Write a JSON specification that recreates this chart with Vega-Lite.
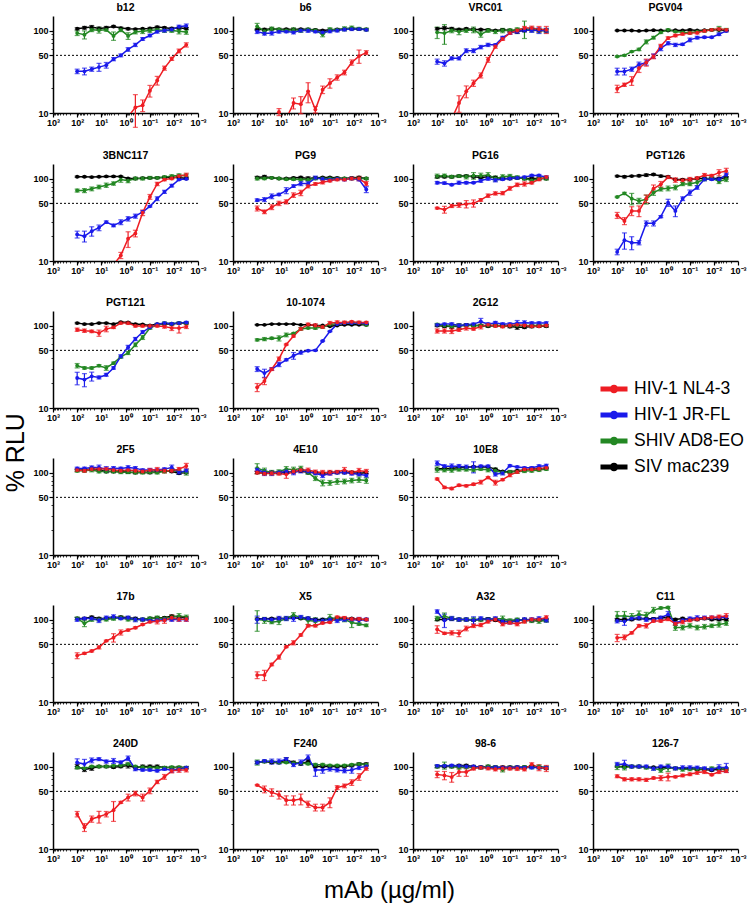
{
"$schema": "https://vega.github.io/schema/vega-lite/v6.json",
"padding": {"left": 3, "top": 2, "right": 0, "bottom": 5},
"background": "white",
"title": {"text": "% RLU", "orient": "left", "anchor": "middle", "fontSize": 25, "fontWeight": "normal", "font": "Liberation Sans", "offset": 4},
"datasets": {
"xs": [
{"s":"S","x":[100,50,25,12.5,6.25,3.125,1.5625,0.78125,0.390625,0.1953125,0.09765625,0.048828125,0.0244140625,0.01220703125,0.006103515625,0.0030517578125]},
{"s":"A","x":[100,50,25,12.5,6.25,3.125,1.5625,0.78125,0.390625,0.1953125,0.09765625,0.048828125,0.0244140625,0.01220703125,0.006103515625,0.0030517578125]},
{"s":"J","x":[100,50,25,12.5,6.25,3.125,1.5625,0.78125,0.390625,0.1953125,0.09765625,0.048828125,0.0244140625,0.01220703125,0.006103515625,0.0030517578125]},
{"s":"N","x":[100,50,25,12.5,6.25,3.125,1.5625,0.78125,0.390625,0.1953125,0.09765625,0.048828125,0.0244140625,0.01220703125,0.006103515625,0.0030517578125]}
],
"d": [
{"p":"b12","s":"S","y":[105,108,110,106,108,112,107,105,104,105,106,110,108,106,107,106],"e":[3,4,5,4,4,3,3,3,2,2,3,3,3,3,3,3]},
{"p":"b12","s":"A","y":[93,89,102,101,102,86,102,86,96,98,100,102,100,100,98,96],"e":[6,10,5,8,4,10,5,8,5,6,5,4,5,5,7,6]},
{"p":"b12","s":"J","y":[32,32,34,36,38,45,50,59,67,79,87,97,100,103,111,114],"e":[2,3,2,4,3,2,2,3,3,3,3,4,4,5,5,6]},
{"p":"b12","s":"N","y":[5,5,5,5,5,6,7,9,11.7,12.4,18.6,24.8,35,45.4,56.6,67],"e":[0,0,0,0,0,0,0,0,5,2,3,3,2,2,3,4]},
{"p":"b6","s":"S","y":[103,103,105,103,104,103,104,103,102,100,102,103,104,105,104,103],"e":[2,3,2,2,2,2,2,2,2,2,2,2,2,2,2,2]},
{"p":"b6","s":"A","y":[112,98,105,103,100,102,100,103,100,90,103,102,105,108,105,103],"e":[10,6,5,4,4,6,5,4,4,6,5,4,6,5,4,4]},
{"p":"b6","s":"J","y":[97,92,93,97,97,95,100,100,97,95,98,100,103,104,104,102],"e":[5,4,5,4,3,4,4,5,3,4,4,4,4,4,3,3]},
{"p":"b6","s":"N","y":[6,7,9,10.3,8.5,13.2,12.8,18.3,11,19.2,23,27,31,41,49,54],"e":[0,0,0,1,0,2,3,5,1,2,3,2,2,3,9,3]},
{"p":"VRC01","s":"S","y":[105,107,105,103,105,103,103,102,100,102,100,98,100,102,100,100],"e":[3,5,4,3,3,3,2,2,2,3,3,6,3,3,3,3]},
{"p":"VRC01","s":"A","y":[95,93,100,97,100,102,90,100,97,100,100,103,105,103,100,100],"e":[15,25,6,8,5,8,7,5,5,6,5,5,25,7,6,6]},
{"p":"VRC01","s":"J","y":[42,40,46,46,57,57,63,67,67,82,93,97,101,101,100,100],"e":[3,3,2,2,3,3,3,3,2,3,3,4,5,6,8,6]},
{"p":"VRC01","s":"N","y":[4,6,8.5,13.2,18.3,23,28.6,44.2,64,79,93,100,107,107,104,102],"e":[0,0,0,3,3,2,2,3,3,3,3,4,5,6,8,10]},
{"p":"PGV04","s":"S","y":[100,100,100,99,100,101,100,100,101,100,102,100,101,102,102,100],"e":[1,1,1,1,1,1,1,1,1,1,2,1,1,1,1,1]},
{"p":"PGV04","s":"A","y":[48.5,50,55.5,59,73,82,95,102,97,95,94,97,99,102,104,102],"e":[1,1,1,2,4,3,3,3,2,2,2,2,3,3,8,4]},
{"p":"PGV04","s":"J","y":[31.9,31.9,34,38.4,41,49,61,70,67,68,77,82,83,83,90,99],"e":[3,3,2,3,3,3,4,3,3,2,4,3,2,2,3,3]},
{"p":"PGV04","s":"N","y":[19.7,22,24.6,35,41,48.5,65,81,87,91,93,94,99,102,104,102],"e":[2,1,3,4,4,3,3,3,3,3,3,3,3,3,4,3]},
{"p":"3BNC117","s":"S","y":[105,105,104,105,106,106,106,100,100,101,102,102,103,103,103,100],"e":[2,2,2,2,2,2,2,2,2,2,2,2,2,2,2,2]},
{"p":"3BNC117","s":"A","y":[71.5,71.5,75,79,83,87,97,94,100,100,102,102,104,107,109,109],"e":[3,4,4,4,5,4,7,5,4,4,4,3,4,4,5,4]},
{"p":"3BNC117","s":"J","y":[21,20,23,25.3,29.6,27,29.6,32.5,35,39.5,46,57,69,82,97,99],"e":[2,3,3,2,1,1,2,2,2,1,1,3,3,3,2,2]},
{"p":"3BNC117","s":"N","y":[4,5,6,7,8,9,11.7,18.6,21.6,38.5,60,86,97,100,107,110],"e":[0,0,0,0,0,0,1,4,2,3,4,4,3,3,4,6]},
{"p":"PG9","s":"S","y":[103,105,102,100,100,102,103,100,102,103,103,102,100,102,103,100],"e":[3,4,2,2,2,2,3,5,3,2,2,2,2,2,3,2]},
{"p":"PG9","s":"A","y":[100,100,102,100,98,98,97,97,100,100,100,100,100,100,100,100],"e":[4,3,2,3,3,3,3,3,3,3,3,3,3,3,3,3]},
{"p":"PG9","s":"J","y":[54.7,55.6,61,64,71.5,81,87,87,102,99,97,99,97,100,97,73.5],"e":[2,3,4,2,6,3,5,5,5,3,3,3,3,3,3,6]},
{"p":"PG9","s":"N","y":[43.4,39.5,45,50,52.2,63,67,81,86,90,94,97,97,100,100,87],"e":[3,2,3,3,3,4,5,4,3,4,3,3,3,4,6,5]},
{"p":"PG16","s":"S","y":[105,105,105,107,107,105,103,105,103,100,100,102,100,100,100,100],"e":[3,3,3,3,3,3,3,3,3,3,3,3,3,3,3,3]},
{"p":"PG16","s":"A","y":[107,108,105,107,105,108,108,110,100,105,107,103,100,95,100,100],"e":[6,5,4,4,6,10,8,8,7,6,5,5,4,5,4,4]},
{"p":"PG16","s":"J","y":[89,88,84,89,89,89,94,100,96,98,100,102,104,109,109,104],"e":[3,3,2,4,3,2,4,5,5,3,3,3,3,3,3,3]},
{"p":"PG16","s":"N","y":[43.8,42,46.5,47.7,49,50,55,62,66,66.5,76,84,86,89,98,104],"e":[1,4,2,3,5,5,2,3,3,3,4,4,5,3,4,4]},
{"p":"PGT126","s":"S","y":[107,105,107,108,110,112,107,105,97,97,97,100,100,100,100,102],"e":[2,3,2,3,4,3,3,2,2,2,3,3,3,3,3,3]},
{"p":"PGT126","s":"A","y":[59.8,66,57,53.5,56,67.5,74.5,76,78,86,86,90,98,101,92,98],"e":[1,2,9,4,7,5,4,5,5,4,4,8,4,4,5,6]},
{"p":"PGT126","s":"J","y":[12.9,17.9,16.7,16.7,28.6,28.6,34.5,51,40.5,57,67.5,78,98,98,98,111],"e":[1,4,3,1,2,2,1,5,6,3,5,4,4,3,3,6]},
{"p":"PGT126","s":"N","y":[35.8,30.6,40.5,40.5,57,75.5,85,104,96,95,98,101,110,108,118,123],"e":[3,3,5,6,6,8,7,4,6,5,5,4,5,4,10,10]},
{"p":"PGT121","s":"S","y":[107,104,104,107,107,104,110,109,104,103,100,104,104,104,107,107],"e":[2,2,2,2,2,2,2,2,2,2,2,2,2,2,2,2]},
{"p":"PGT121","s":"A","y":[32.6,30.6,30.6,32.6,30.6,35,41.6,46.5,58.5,71.8,93,102,107,105,107,107],"e":[2,1,1,1,2,1,1,2,3,4,3,3,3,3,3,3]},
{"p":"PGT121","s":"J","y":[23.1,22.1,24.2,23.5,25.3,30.6,42.3,54.5,68.6,83.4,95,104,107,105,107,109],"e":[4,4,3,1,1,1,2,3,3,3,2,2,3,2,3,3]},
{"p":"PGT121","s":"N","y":[89,86.6,85,81,91,95,107,107,99,99,99,99,97,93,93,97],"e":[4,4,3,7,7,3,3,4,3,3,3,3,4,6,12,5]},
{"p":"10-1074","s":"S","y":[102,102,104,104,104,104,102,102,100,100,98,100,102,102,102,102],"e":[1,1,1,1,1,1,1,1,1,1,1,1,1,1,1,1]},
{"p":"10-1074","s":"A","y":[67,68.5,70,70,77,80,91,93,93,96,103,105,107,107,107,102],"e":[2,3,2,5,4,2,3,2,3,3,3,3,3,3,3,3]},
{"p":"10-1074","s":"J","y":[29.7,26.5,29.7,33.8,38.4,43,47,49.5,50,65,85,104,107,107,107,106],"e":[2,3,1,2,1,4,2,1,1,1,1,2,2,2,2,2]},
{"p":"10-1074","s":"N","y":[17.8,21.2,29.5,39.5,58.8,74.6,91,103,100,96,107,109,109,111,109,109],"e":[2,2,1,2,1,2,3,4,5,3,5,5,4,3,4,3]},
{"p":"2G12","s":"S","y":[100,98,97,98,102,100,100,98,100,100,97,95,95,97,98,98],"e":[3,3,5,7,3,3,3,3,3,3,3,5,3,3,3,3]},
{"p":"2G12","s":"A","y":[103,100,98,100,100,100,100,100,100,98,100,100,100,100,100,100],"e":[3,3,3,3,3,3,3,3,3,3,3,3,3,3,3,3]},
{"p":"2G12","s":"J","y":[102,104,104,100,102,104,112,104,108,104,104,107,108,107,107,107],"e":[3,3,4,4,3,3,10,4,4,4,4,8,6,4,4,4]},
{"p":"2G12","s":"N","y":[86,86,86,89,93,91,97,102,99,97,100,102,100,98,98,100],"e":[5,5,6,4,5,3,6,3,3,3,3,3,3,3,3,3]},
{"p":"2F5","s":"S","y":[107,107,110,107,103,103,103,101,100,101,100,102,104,103,98,100],"e":[3,3,3,3,3,3,3,3,3,3,3,3,3,3,3,3]},
{"p":"2F5","s":"A","y":[105,105,107,103,103,103,101,101,100,100,101,100,103,106,102,100],"e":[4,4,5,4,4,4,4,4,4,4,4,4,4,4,6,7]},
{"p":"2F5","s":"J","y":[112,112,115,115,110,113,112,115,113,107,107,107,110,115,100,105],"e":[4,4,5,8,8,5,4,6,5,4,5,4,4,8,5,5]},
{"p":"2F5","s":"N","y":[107,105,110,110,110,107,105,107,105,103,107,108,105,105,110,120],"e":[4,4,5,5,5,4,4,4,5,4,5,7,6,4,5,9]},
{"p":"4E10","s":"S","y":[100,98,100,100,100,102,104,100,100,98,100,100,100,100,97,100],"e":[3,3,3,3,3,3,3,3,3,3,3,3,3,3,3,3]},
{"p":"4E10","s":"A","y":[113,105,100,102,110,108,112,100,85,75,75,78,78,80,82,80],"e":[15,8,6,6,8,8,7,5,5,6,5,6,5,5,6,6]},
{"p":"4E10","s":"J","y":[108,100,98,100,103,100,105,103,98,92,97,100,100,97,95,92],"e":[5,8,6,4,5,6,6,5,4,5,4,4,4,4,4,4]},
{"p":"4E10","s":"N","y":[100,97,98,97,95,103,107,107,102,100,100,102,107,100,105,103],"e":[4,4,5,4,10,6,6,6,5,6,6,4,8,5,7,6]},
{"p":"10E8","s":"S","y":[110,112,112,115,115,118,117,117,110,103,102,105,107,110,110,112],"e":[2,2,2,2,2,2,2,2,2,2,2,2,2,2,2,2]},
{"p":"10E8","s":"A","y":[109,107,107,109,109,107,110,107,105,100,102,102,104,105,107,110],"e":[8,5,6,5,5,5,4,5,8,4,4,4,4,4,4,4]},
{"p":"10E8","s":"J","y":[130,119,119,119,117,117,119,119,95.6,98.4,121,117,114,114,119,121],"e":[8,5,8,6,6,18,4,4,5,5,3,3,3,4,5,5]},
{"p":"10E8","s":"N","y":[83.6,66,64,70,69,72,76.5,87,75.5,82,93,101.5,109,109,111,114],"e":[2,2,2,2,2,2,4,2,5,2,4,4,3,3,3,3]},
{"p":"17b","s":"S","y":[103,103,107,103,103,105,107,105,103,100,103,105,105,110,107,105],"e":[3,3,3,3,3,3,3,3,3,3,3,3,3,3,3,3]},
{"p":"17b","s":"A","y":[103,90,100,100,100,103,105,100,100,100,103,105,103,107,110,107],"e":[4,8,5,4,4,5,5,4,4,4,4,5,5,6,8,6]},
{"p":"17b","s":"J","y":[100,103,103,98,105,108,103,105,100,100,97,98,100,100,100,100],"e":[5,3,4,6,5,6,3,5,6,4,4,4,4,5,4,4]},
{"p":"17b","s":"N","y":[36.5,38.9,41.5,46,55.1,60.3,69.8,74.5,79.5,87,93.6,95.5,98,105,101,101],"e":[3,1,1,2,1,7,5,2,2,2,2,7,8,8,6,6]},
{"p":"X5","s":"S","y":[102,102,103,103,103,105,103,103,100,100,102,103,103,103,100,100],"e":[2,2,2,2,2,2,2,2,2,2,2,2,2,2,2,2]},
{"p":"X5","s":"A","y":[100,98,93,95,103,113,105,97,95,97,105,102,100,92,88,85],"e":[28,8,4,8,5,8,5,10,10,6,10,6,6,12,3,3]},
{"p":"X5","s":"J","y":[100,102,100,103,103,103,107,103,98,97,100,97,100,100,98,100],"e":[10,3,4,6,6,8,5,5,5,6,5,5,5,5,8,4]},
{"p":"X5","s":"N","y":[21.2,21.2,28.5,35.1,46.7,52.3,65,84.2,84.2,90.6,92.5,107,104.8,101.5,101.5,100],"e":[2,3,1,2,1,3,2,3,3,2,2,3,4,4,4,3]},
{"p":"A32","s":"S","y":[100,100,102,100,100,98,100,102,98,95,95,98,100,97,98,98],"e":[3,3,3,3,3,3,3,3,3,3,3,3,3,3,3,3]},
{"p":"A32","s":"A","y":[103,110,103,100,100,100,100,100,102,102,97,100,97,97,95,97],"e":[6,10,5,4,4,5,5,4,4,8,5,4,5,5,5,4]},
{"p":"A32","s":"J","y":[125,98,103,100,100,98,103,100,103,95,93,97,100,100,103,98],"e":[6,18,6,5,5,10,5,5,5,5,5,5,5,5,5,5]},
{"p":"A32","s":"N","y":[76,68,69,68,78,84,86,94.5,100,88,92,88,94.5,100,100,106],"e":[8,2,4,6,5,4,4,4,4,4,4,4,4,4,4,5]},
{"p":"C11","s":"S","y":[100,100,100,103,102,102,105,105,100,103,100,100,103,100,100,100],"e":[3,3,3,3,3,3,3,3,3,3,3,3,3,3,3,3]},
{"p":"C11","s":"A","y":[110,110,108,115,112,130,138,140,80,80,84,80,82,84,87,90],"e":[15,15,10,12,10,10,4,4,6,5,5,5,5,4,6,5]},
{"p":"C11","s":"J","y":[96,95,103,105,100,100,105,115,90,98,103,105,105,105,105,107],"e":[5,10,5,6,5,5,5,10,5,4,4,6,5,5,4,4]},
{"p":"C11","s":"N","y":[60,61,69,84,84,96,96,101,89,94,98,101,104,106,108,110],"e":[6,4,2,3,5,3,3,4,4,5,4,4,4,4,5,8]},
{"p":"240D","s":"S","y":[100,92,95,100,100,98,100,103,97,100,100,100,97,97,97,97],"e":[6,5,5,3,3,3,3,7,3,4,4,4,3,3,3,3]},
{"p":"240D","s":"A","y":[97,95,100,100,100,102,103,107,100,98,97,97,97,98,98,97],"e":[3,3,3,3,3,3,3,3,3,3,3,3,3,3,3,3]},
{"p":"240D","s":"J","y":[112,107,119,123,115,117,112,126,93,91,91,89,93,90,93,97],"e":[12,15,8,5,5,8,5,8,4,3,3,3,3,5,4,3]},
{"p":"240D","s":"N","y":[26.5,18.3,23.1,24.6,26.5,29.6,36.7,42.2,47.1,42.2,50.8,65.1,75,88.6,91,91],"e":[2,2,2,4,2,8,1,4,3,4,4,3,5,5,6,5]},
{"p":"F240","s":"S","y":[112,115,112,112,120,112,108,115,100,100,100,100,100,103,107,107],"e":[3,3,3,3,8,4,4,8,3,3,3,3,3,3,4,4]},
{"p":"F240","s":"A","y":[112,115,115,112,112,110,110,108,105,105,103,103,103,105,107,105],"e":[8,4,3,3,3,3,3,3,4,4,3,3,3,3,3,3]},
{"p":"F240","s":"J","y":[112,117,115,115,123,105,112,128,91,91,93,91,89,91,97,100],"e":[5,4,8,8,5,5,8,10,15,8,5,5,5,8,5,5]},
{"p":"F240","s":"N","y":[59.5,53,48.6,45.3,39.1,39.1,40.3,35,31.9,31.9,36.7,55.6,58.3,64,75,95],"e":[1,5,5,5,5,5,6,3,3,3,5,3,3,5,7,5]},
{"p":"98-6","s":"S","y":[100,100,100,103,103,100,98,100,98,98,98,98,98,100,97,95],"e":[3,3,3,3,3,3,3,3,3,3,3,3,3,3,3,3]},
{"p":"98-6","s":"A","y":[100,103,100,97,98,97,97,100,98,92,97,97,98,98,100,97],"e":[4,10,4,4,4,4,4,4,4,6,4,4,4,4,4,4]},
{"p":"98-6","s":"J","y":[102,102,103,102,100,100,98,97,98,97,97,98,97,97,97,97],"e":[3,3,3,3,3,3,3,3,3,3,3,3,3,3,3,3]},
{"p":"98-6","s":"N","y":[80.3,78.1,74.5,86,86,94.6,97,95,92.6,95,94.6,94.6,92.6,106,97,95],"e":[7,9,10,10,10,4,4,4,4,6,4,5,4,5,8,8]},
{"p":"126-7","s":"S","y":[100,100,100,100,98,98,97,97,95,95,95,92,92,90,93,93],"e":[2,2,2,2,2,2,2,2,2,2,2,2,2,2,2,2]},
{"p":"126-7","s":"A","y":[100,97,100,100,97,95,90,97,95,92,93,93,93,95,95,93],"e":[8,6,4,4,4,4,5,10,4,4,4,4,4,4,4,4]},
{"p":"126-7","s":"J","y":[106,107,100,100,100,95,100,100,95,97,97,97,95,92,97,97],"e":[6,12,4,4,4,5,4,4,4,5,5,4,4,4,8,12]},
{"p":"126-7","s":"N","y":[76.2,70,70,70,69,72.5,72.5,75,75,78,80.6,84.4,86.3,79.6,86.3,88.5],"e":[3,3,3,3,3,2,5,8,2,3,3,4,4,2,4,4]}
]
},
"data": {"name": "d"},
"transform": [
{"lookup": "s", "from": {"data": {"name": "xs"}, "key": "s", "fields": ["x"]}},
{"flatten": ["x", "y", "e"]}
],
"vconcat": [{
"title": {"text": "mAb (µg/ml)", "orient": "bottom", "anchor": "middle", "fontSize": 24, "fontWeight": "normal", "font": "Liberation Sans", "offset": 16},
"spacing": 22,
"vconcat": [
{"transform": [{"filter": {"field": "p", "oneOf": ["b12","b6","VRC01","PGV04"]}}],
 "facet": {"field": "p", "type": "nominal", "sort": ["b12","b6","VRC01","PGV04"], "title": null},
 "columns": 4, "spacing": {"column": 5},
 "resolve": {"axis": {"x": "independent", "y": "independent"}},
 "spec": {"width": 145, "height": 97, "resolve": {"axis": {"x": "independent", "y": "independent"}}, "layer": [
  {"transform": [{"filter": "datum.s == 'N' && datum.x == 100"}], "mark": {"type": "rule", "strokeDash": [2, 2], "color": "black", "strokeWidth": 1}, "encoding": {"y": {"datum": 50, "type": "quantitative", "axis": null}}},
  {"mark": {"type": "line", "clip": true, "strokeWidth": 1.5}, "encoding": {
    "x": {"field": "x", "type": "quantitative", "scale": {"type": "log", "domain": [0.001, 1000], "reverse": true, "nice": false}, "axis": {"orient": "bottom", "title": null, "values": [1000,100,10,1,0.1,0.01,0.001], "labelFlush": false, "labelOverlap": false, "labelExpr": "datum.value == 1000 ? '10³' : datum.value == 100 ? '10²' : datum.value == 10 ? '10¹' : datum.value == 1 ? '10⁰' : datum.value == 0.1 ? '10⁻¹' : datum.value == 0.01 ? '10⁻²' : '10⁻³'"}},
    "y": {"field": "y", "type": "quantitative", "scale": {"type": "log", "domain": [10, 150], "nice": false}, "axis": {"orient": "left", "title": null, "values": [10, 50, 100]}},
    "color": {"field": "s", "type": "nominal", "scale": {"domain": ["N","J","A","S"], "range": ["#ee1d23","#1a1aeb","#238823","#000000"]}, "legend": {"title": null, "orient": "none", "legendX": 547, "legendY": 359, "labelFontSize": 17.5, "labelColor": "#000", "labelOffset": 6, "symbolType": "M-1,-0.18L1,-0.18L1,0.18L-1,0.18Z M-0.32,0A0.32,0.32 0 1,1 0.32,0A0.32,0.32 0 1,1 -0.32,0Z", "symbolSize": 730, "symbolStrokeWidth": 0, "symbolOpacity": 1, "rowPadding": 3, "labelExpr": "datum.label == 'N' ? 'HIV-1 NL4-3' : datum.label == 'J' ? 'HIV-1 JR-FL' : datum.label == 'A' ? 'SHIV AD8-EO' : 'SIV mac239'", "encode": {"symbols": {"update": {"opacity": {"value": 1}, "fillOpacity": {"value": 1}, "strokeOpacity": {"value": 1}}}}}}}},
  {"transform": [{"filter": "datum.y >= 10 && datum.e > 0"}], "mark": {"type": "errorbar", "ticks": true, "size": 5, "thickness": 1.2}, "encoding": {
    "x": {"field": "x", "type": "quantitative", "axis": null}, "y": {"field": "y", "type": "quantitative", "axis": null}, "yError": {"field": "e"},
    "color": {"field": "s", "type": "nominal"}}},
  {"transform": [{"filter": "datum.y >= 10"}], "mark": {"type": "point", "filled": true, "size": 15, "opacity": 1}, "encoding": {
    "x": {"field": "x", "type": "quantitative", "axis": {"orient": "bottom", "title": null, "labels": false, "domain": false, "tickSize": 2, "tickWidth": 0.8, "values": [900,800,700,600,500,400,300,200,90,80,70,60,50,40,30,20,9,8,7,6,5,4,3,2,0.9,0.8,0.7,0.6,0.5,0.4,0.3,0.2,0.09,0.08,0.07,0.06,0.05,0.04,0.03,0.02,0.009,0.008,0.007,0.006,0.005,0.004,0.003,0.002]}},
    "y": {"field": "y", "type": "quantitative", "axis": {"orient": "left", "title": null, "labels": false, "domain": false, "tickSize": 2, "tickWidth": 0.8, "values": [20,30,40,60,70,80,90]}},
    "color": {"field": "s", "type": "nominal"}}}
 ]}},
{"transform": [{"filter": {"field": "p", "oneOf": ["3BNC117","PG9","PG16","PGT126"]}}],
 "facet": {"field": "p", "type": "nominal", "sort": ["3BNC117","PG9","PG16","PGT126"], "title": null},
 "columns": 4, "spacing": {"column": 5},
 "resolve": {"axis": {"x": "independent", "y": "independent"}},
 "spec": {"width": 145, "height": 97, "resolve": {"axis": {"x": "independent", "y": "independent"}}, "layer": [
  {"transform": [{"filter": "datum.s == 'N' && datum.x == 100"}], "mark": {"type": "rule", "strokeDash": [2, 2], "color": "black", "strokeWidth": 1}, "encoding": {"y": {"datum": 50, "type": "quantitative", "axis": null}}},
  {"mark": {"type": "line", "clip": true, "strokeWidth": 1.5}, "encoding": {
    "x": {"field": "x", "type": "quantitative", "scale": {"type": "log", "domain": [0.001, 1000], "reverse": true, "nice": false}, "axis": {"orient": "bottom", "title": null, "values": [1000,100,10,1,0.1,0.01,0.001], "labelFlush": false, "labelOverlap": false, "labelExpr": "datum.value == 1000 ? '10³' : datum.value == 100 ? '10²' : datum.value == 10 ? '10¹' : datum.value == 1 ? '10⁰' : datum.value == 0.1 ? '10⁻¹' : datum.value == 0.01 ? '10⁻²' : '10⁻³'"}},
    "y": {"field": "y", "type": "quantitative", "scale": {"type": "log", "domain": [10, 150], "nice": false}, "axis": {"orient": "left", "title": null, "values": [10, 50, 100]}},
    "color": {"field": "s", "type": "nominal", "scale": {"domain": ["N","J","A","S"], "range": ["#ee1d23","#1a1aeb","#238823","#000000"]}}}},
  {"transform": [{"filter": "datum.y >= 10 && datum.e > 0"}], "mark": {"type": "errorbar", "ticks": true, "size": 5, "thickness": 1.2}, "encoding": {
    "x": {"field": "x", "type": "quantitative", "axis": null}, "y": {"field": "y", "type": "quantitative", "axis": null}, "yError": {"field": "e"},
    "color": {"field": "s", "type": "nominal"}}},
  {"transform": [{"filter": "datum.y >= 10"}], "mark": {"type": "point", "filled": true, "size": 15, "opacity": 1}, "encoding": {
    "x": {"field": "x", "type": "quantitative", "axis": {"orient": "bottom", "title": null, "labels": false, "domain": false, "tickSize": 2, "tickWidth": 0.8, "values": [900,800,700,600,500,400,300,200,90,80,70,60,50,40,30,20,9,8,7,6,5,4,3,2,0.9,0.8,0.7,0.6,0.5,0.4,0.3,0.2,0.09,0.08,0.07,0.06,0.05,0.04,0.03,0.02,0.009,0.008,0.007,0.006,0.005,0.004,0.003,0.002]}},
    "y": {"field": "y", "type": "quantitative", "axis": {"orient": "left", "title": null, "labels": false, "domain": false, "tickSize": 2, "tickWidth": 0.8, "values": [20,30,40,60,70,80,90]}},
    "color": {"field": "s", "type": "nominal"}}}
 ]}},
{"transform": [{"filter": {"field": "p", "oneOf": ["PGT121","10-1074","2G12"]}}],
 "facet": {"field": "p", "type": "nominal", "sort": ["PGT121","10-1074","2G12"], "title": null},
 "columns": 4, "spacing": {"column": 5},
 "resolve": {"axis": {"x": "independent", "y": "independent"}},
 "spec": {"width": 145, "height": 97, "resolve": {"axis": {"x": "independent", "y": "independent"}}, "layer": [
  {"transform": [{"filter": "datum.s == 'N' && datum.x == 100"}], "mark": {"type": "rule", "strokeDash": [2, 2], "color": "black", "strokeWidth": 1}, "encoding": {"y": {"datum": 50, "type": "quantitative", "axis": null}}},
  {"mark": {"type": "line", "clip": true, "strokeWidth": 1.5}, "encoding": {
    "x": {"field": "x", "type": "quantitative", "scale": {"type": "log", "domain": [0.001, 1000], "reverse": true, "nice": false}, "axis": {"orient": "bottom", "title": null, "values": [1000,100,10,1,0.1,0.01,0.001], "labelFlush": false, "labelOverlap": false, "labelExpr": "datum.value == 1000 ? '10³' : datum.value == 100 ? '10²' : datum.value == 10 ? '10¹' : datum.value == 1 ? '10⁰' : datum.value == 0.1 ? '10⁻¹' : datum.value == 0.01 ? '10⁻²' : '10⁻³'"}},
    "y": {"field": "y", "type": "quantitative", "scale": {"type": "log", "domain": [10, 150], "nice": false}, "axis": {"orient": "left", "title": null, "values": [10, 50, 100]}},
    "color": {"field": "s", "type": "nominal", "scale": {"domain": ["N","J","A","S"], "range": ["#ee1d23","#1a1aeb","#238823","#000000"]}}}},
  {"transform": [{"filter": "datum.y >= 10 && datum.e > 0"}], "mark": {"type": "errorbar", "ticks": true, "size": 5, "thickness": 1.2}, "encoding": {
    "x": {"field": "x", "type": "quantitative", "axis": null}, "y": {"field": "y", "type": "quantitative", "axis": null}, "yError": {"field": "e"},
    "color": {"field": "s", "type": "nominal"}}},
  {"transform": [{"filter": "datum.y >= 10"}], "mark": {"type": "point", "filled": true, "size": 15, "opacity": 1}, "encoding": {
    "x": {"field": "x", "type": "quantitative", "axis": {"orient": "bottom", "title": null, "labels": false, "domain": false, "tickSize": 2, "tickWidth": 0.8, "values": [900,800,700,600,500,400,300,200,90,80,70,60,50,40,30,20,9,8,7,6,5,4,3,2,0.9,0.8,0.7,0.6,0.5,0.4,0.3,0.2,0.09,0.08,0.07,0.06,0.05,0.04,0.03,0.02,0.009,0.008,0.007,0.006,0.005,0.004,0.003,0.002]}},
    "y": {"field": "y", "type": "quantitative", "axis": {"orient": "left", "title": null, "labels": false, "domain": false, "tickSize": 2, "tickWidth": 0.8, "values": [20,30,40,60,70,80,90]}},
    "color": {"field": "s", "type": "nominal"}}}
 ]}},
{"transform": [{"filter": {"field": "p", "oneOf": ["2F5","4E10","10E8"]}}],
 "facet": {"field": "p", "type": "nominal", "sort": ["2F5","4E10","10E8"], "title": null},
 "columns": 4, "spacing": {"column": 5},
 "resolve": {"axis": {"x": "independent", "y": "independent"}},
 "spec": {"width": 145, "height": 97, "resolve": {"axis": {"x": "independent", "y": "independent"}}, "layer": [
  {"transform": [{"filter": "datum.s == 'N' && datum.x == 100"}], "mark": {"type": "rule", "strokeDash": [2, 2], "color": "black", "strokeWidth": 1}, "encoding": {"y": {"datum": 50, "type": "quantitative", "axis": null}}},
  {"mark": {"type": "line", "clip": true, "strokeWidth": 1.5}, "encoding": {
    "x": {"field": "x", "type": "quantitative", "scale": {"type": "log", "domain": [0.001, 1000], "reverse": true, "nice": false}, "axis": {"orient": "bottom", "title": null, "values": [1000,100,10,1,0.1,0.01,0.001], "labelFlush": false, "labelOverlap": false, "labelExpr": "datum.value == 1000 ? '10³' : datum.value == 100 ? '10²' : datum.value == 10 ? '10¹' : datum.value == 1 ? '10⁰' : datum.value == 0.1 ? '10⁻¹' : datum.value == 0.01 ? '10⁻²' : '10⁻³'"}},
    "y": {"field": "y", "type": "quantitative", "scale": {"type": "log", "domain": [10, 150], "nice": false}, "axis": {"orient": "left", "title": null, "values": [10, 50, 100]}},
    "color": {"field": "s", "type": "nominal", "scale": {"domain": ["N","J","A","S"], "range": ["#ee1d23","#1a1aeb","#238823","#000000"]}}}},
  {"transform": [{"filter": "datum.y >= 10 && datum.e > 0"}], "mark": {"type": "errorbar", "ticks": true, "size": 5, "thickness": 1.2}, "encoding": {
    "x": {"field": "x", "type": "quantitative", "axis": null}, "y": {"field": "y", "type": "quantitative", "axis": null}, "yError": {"field": "e"},
    "color": {"field": "s", "type": "nominal"}}},
  {"transform": [{"filter": "datum.y >= 10"}], "mark": {"type": "point", "filled": true, "size": 15, "opacity": 1}, "encoding": {
    "x": {"field": "x", "type": "quantitative", "axis": {"orient": "bottom", "title": null, "labels": false, "domain": false, "tickSize": 2, "tickWidth": 0.8, "values": [900,800,700,600,500,400,300,200,90,80,70,60,50,40,30,20,9,8,7,6,5,4,3,2,0.9,0.8,0.7,0.6,0.5,0.4,0.3,0.2,0.09,0.08,0.07,0.06,0.05,0.04,0.03,0.02,0.009,0.008,0.007,0.006,0.005,0.004,0.003,0.002]}},
    "y": {"field": "y", "type": "quantitative", "axis": {"orient": "left", "title": null, "labels": false, "domain": false, "tickSize": 2, "tickWidth": 0.8, "values": [20,30,40,60,70,80,90]}},
    "color": {"field": "s", "type": "nominal"}}}
 ]}},
{"transform": [{"filter": {"field": "p", "oneOf": ["17b","X5","A32","C11"]}}],
 "facet": {"field": "p", "type": "nominal", "sort": ["17b","X5","A32","C11"], "title": null},
 "columns": 4, "spacing": {"column": 5},
 "resolve": {"axis": {"x": "independent", "y": "independent"}},
 "spec": {"width": 145, "height": 97, "resolve": {"axis": {"x": "independent", "y": "independent"}}, "layer": [
  {"transform": [{"filter": "datum.s == 'N' && datum.x == 100"}], "mark": {"type": "rule", "strokeDash": [2, 2], "color": "black", "strokeWidth": 1}, "encoding": {"y": {"datum": 50, "type": "quantitative", "axis": null}}},
  {"mark": {"type": "line", "clip": true, "strokeWidth": 1.5}, "encoding": {
    "x": {"field": "x", "type": "quantitative", "scale": {"type": "log", "domain": [0.001, 1000], "reverse": true, "nice": false}, "axis": {"orient": "bottom", "title": null, "values": [1000,100,10,1,0.1,0.01,0.001], "labelFlush": false, "labelOverlap": false, "labelExpr": "datum.value == 1000 ? '10³' : datum.value == 100 ? '10²' : datum.value == 10 ? '10¹' : datum.value == 1 ? '10⁰' : datum.value == 0.1 ? '10⁻¹' : datum.value == 0.01 ? '10⁻²' : '10⁻³'"}},
    "y": {"field": "y", "type": "quantitative", "scale": {"type": "log", "domain": [10, 150], "nice": false}, "axis": {"orient": "left", "title": null, "values": [10, 50, 100]}},
    "color": {"field": "s", "type": "nominal", "scale": {"domain": ["N","J","A","S"], "range": ["#ee1d23","#1a1aeb","#238823","#000000"]}}}},
  {"transform": [{"filter": "datum.y >= 10 && datum.e > 0"}], "mark": {"type": "errorbar", "ticks": true, "size": 5, "thickness": 1.2}, "encoding": {
    "x": {"field": "x", "type": "quantitative", "axis": null}, "y": {"field": "y", "type": "quantitative", "axis": null}, "yError": {"field": "e"},
    "color": {"field": "s", "type": "nominal"}}},
  {"transform": [{"filter": "datum.y >= 10"}], "mark": {"type": "point", "filled": true, "size": 15, "opacity": 1}, "encoding": {
    "x": {"field": "x", "type": "quantitative", "axis": {"orient": "bottom", "title": null, "labels": false, "domain": false, "tickSize": 2, "tickWidth": 0.8, "values": [900,800,700,600,500,400,300,200,90,80,70,60,50,40,30,20,9,8,7,6,5,4,3,2,0.9,0.8,0.7,0.6,0.5,0.4,0.3,0.2,0.09,0.08,0.07,0.06,0.05,0.04,0.03,0.02,0.009,0.008,0.007,0.006,0.005,0.004,0.003,0.002]}},
    "y": {"field": "y", "type": "quantitative", "axis": {"orient": "left", "title": null, "labels": false, "domain": false, "tickSize": 2, "tickWidth": 0.8, "values": [20,30,40,60,70,80,90]}},
    "color": {"field": "s", "type": "nominal"}}}
 ]}},
{"transform": [{"filter": {"field": "p", "oneOf": ["240D","F240","98-6","126-7"]}}],
 "facet": {"field": "p", "type": "nominal", "sort": ["240D","F240","98-6","126-7"], "title": null},
 "columns": 4, "spacing": {"column": 5},
 "resolve": {"axis": {"x": "independent", "y": "independent"}},
 "spec": {"width": 145, "height": 97, "resolve": {"axis": {"x": "independent", "y": "independent"}}, "layer": [
  {"transform": [{"filter": "datum.s == 'N' && datum.x == 100"}], "mark": {"type": "rule", "strokeDash": [2, 2], "color": "black", "strokeWidth": 1}, "encoding": {"y": {"datum": 50, "type": "quantitative", "axis": null}}},
  {"mark": {"type": "line", "clip": true, "strokeWidth": 1.5}, "encoding": {
    "x": {"field": "x", "type": "quantitative", "scale": {"type": "log", "domain": [0.001, 1000], "reverse": true, "nice": false}, "axis": {"orient": "bottom", "title": null, "values": [1000,100,10,1,0.1,0.01,0.001], "labelFlush": false, "labelOverlap": false, "labelExpr": "datum.value == 1000 ? '10³' : datum.value == 100 ? '10²' : datum.value == 10 ? '10¹' : datum.value == 1 ? '10⁰' : datum.value == 0.1 ? '10⁻¹' : datum.value == 0.01 ? '10⁻²' : '10⁻³'"}},
    "y": {"field": "y", "type": "quantitative", "scale": {"type": "log", "domain": [10, 150], "nice": false}, "axis": {"orient": "left", "title": null, "values": [10, 50, 100]}},
    "color": {"field": "s", "type": "nominal", "scale": {"domain": ["N","J","A","S"], "range": ["#ee1d23","#1a1aeb","#238823","#000000"]}}}},
  {"transform": [{"filter": "datum.y >= 10 && datum.e > 0"}], "mark": {"type": "errorbar", "ticks": true, "size": 5, "thickness": 1.2}, "encoding": {
    "x": {"field": "x", "type": "quantitative", "axis": null}, "y": {"field": "y", "type": "quantitative", "axis": null}, "yError": {"field": "e"},
    "color": {"field": "s", "type": "nominal"}}},
  {"transform": [{"filter": "datum.y >= 10"}], "mark": {"type": "point", "filled": true, "size": 15, "opacity": 1}, "encoding": {
    "x": {"field": "x", "type": "quantitative", "axis": {"orient": "bottom", "title": null, "labels": false, "domain": false, "tickSize": 2, "tickWidth": 0.8, "values": [900,800,700,600,500,400,300,200,90,80,70,60,50,40,30,20,9,8,7,6,5,4,3,2,0.9,0.8,0.7,0.6,0.5,0.4,0.3,0.2,0.09,0.08,0.07,0.06,0.05,0.04,0.03,0.02,0.009,0.008,0.007,0.006,0.005,0.004,0.003,0.002]}},
    "y": {"field": "y", "type": "quantitative", "axis": {"orient": "left", "title": null, "labels": false, "domain": false, "tickSize": 2, "tickWidth": 0.8, "values": [20,30,40,60,70,80,90]}},
    "color": {"field": "s", "type": "nominal"}}}
 ]}}
]
}],
"config": {
 "font": "Liberation Sans",
 "view": {"stroke": null},
 "axis": {"domainColor": "#000", "domainWidth": 1.5, "tickColor": "#000", "tickWidth": 1.2, "tickSize": 4, "labelFontWeight": "bold", "labelFontSize": 9, "labelColor": "#000", "labelPadding": 1, "grid": false},
 "header": {"labelFontWeight": "bold", "labelFontSize": 10.5, "labelColor": "#000", "labelPadding": 3}
}
}
